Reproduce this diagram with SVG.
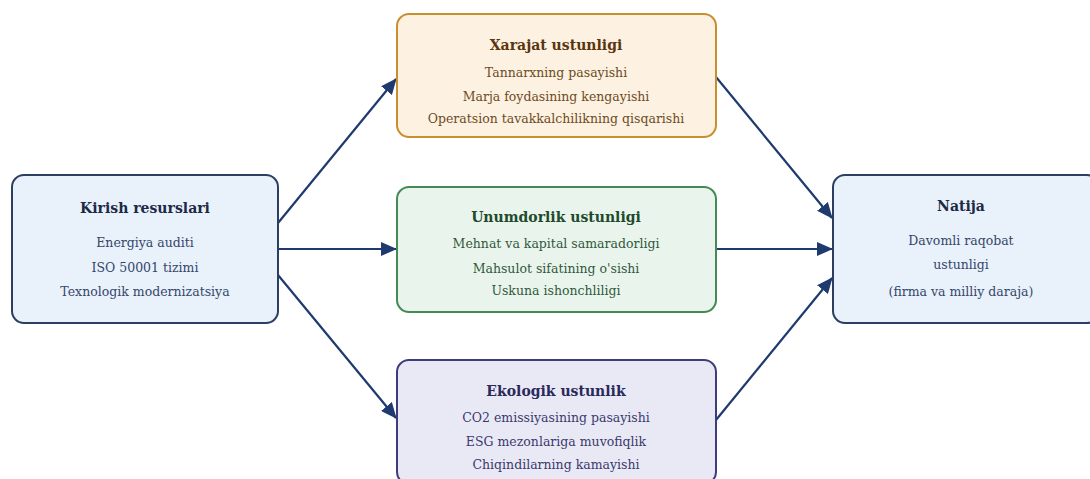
<svg xmlns="http://www.w3.org/2000/svg" width="1090" height="479" viewBox="0 0 1090 479">
<defs>
<marker id="ah" viewBox="0 0 16 14" refX="15" refY="7" markerWidth="16" markerHeight="14" markerUnits="userSpaceOnUse" orient="auto"><path d="M0,0 L16,7 L0,14 z" fill="#1f3a6e"/></marker>
<style>
.t{font-family:"DejaVu Serif",serif;font-weight:bold;font-size:14px;text-anchor:middle}
.i{font-family:"DejaVu Serif",serif;font-size:12.5px;text-anchor:middle}
.c{stroke:#1f3a6e;stroke-width:2.2;fill:none;marker-end:url(#ah)}
.nb{stroke-width:2}
</style>
</defs>
<rect width="1090" height="479" fill="#ffffff"/>
<g id="connectors">
<line class="c" x1="278" y1="223" x2="396" y2="79"/>
<line class="c" x1="278" y1="249" x2="396" y2="249"/>
<line class="c" x1="278" y1="275" x2="396" y2="418"/>
<line class="c" x1="716" y1="77" x2="832" y2="218"/>
<line class="c" x1="716" y1="249" x2="832" y2="249"/>
<line class="c" x1="716" y1="420" x2="832" y2="278"/>
</g>
<g id="kirish">
<rect class="nb" x="12" y="175" width="266" height="148" rx="12" fill="#e9f1fb" stroke="#2c3f63"/>
<text class="t" x="145" y="213" fill="#1c2a45">Kirish resurslari</text>
<text class="i" x="145" y="247" fill="#34476a">Energiya auditi</text>
<text class="i" x="145" y="272" fill="#34476a">ISO 50001 tizimi</text>
<text class="i" x="145" y="296" fill="#34476a">Texnologik modernizatsiya</text>
</g>
<g id="xarajat">
<rect class="nb" x="397" y="14" width="319" height="123" rx="12" fill="#fdf2e2" stroke="#c98e2e"/>
<text class="t" x="556" y="50" fill="#5a3610">Xarajat ustunligi</text>
<text class="i" x="556" y="77" fill="#6e4b22">Tannarxning pasayishi</text>
<text class="i" x="556" y="101" fill="#6e4b22">Marja foydasining kengayishi</text>
<text class="i" x="556" y="123" fill="#6e4b22">Operatsion tavakkalchilikning qisqarishi</text>
</g>
<g id="unumdorlik">
<rect class="nb" x="397" y="187" width="319" height="125" rx="12" fill="#e9f5ec" stroke="#438a55"/>
<text class="t" x="556" y="222" fill="#1f4a2c">Unumdorlik ustunligi</text>
<text class="i" x="556" y="248" fill="#32583e">Mehnat va kapital samaradorligi</text>
<text class="i" x="556" y="273" fill="#32583e">Mahsulot sifatining o'sishi</text>
<text class="i" x="556" y="295" fill="#32583e">Uskuna ishonchliligi</text>
</g>
<g id="ekologik">
<rect class="nb" x="397" y="360" width="319" height="124" rx="12" fill="#e9e9f6" stroke="#3d3d7c"/>
<text class="t" x="556" y="396" fill="#2a2a5a">Ekologik ustunlik</text>
<text class="i" x="556" y="422" fill="#3a3a6c">CO2 emissiyasining pasayishi</text>
<text class="i" x="556" y="446" fill="#3a3a6c">ESG mezonlariga muvofiqlik</text>
<text class="i" x="556" y="469" fill="#3a3a6c">Chiqindilarning kamayishi</text>
</g>
<g id="natija">
<rect class="nb" x="833" y="175" width="266" height="148" rx="12" fill="#e9f1fb" stroke="#2c3f63"/>
<text class="t" x="961" y="211" fill="#1c2a45">Natija</text>
<text class="i" x="961" y="245" fill="#34476a">Davomli raqobat</text>
<text class="i" x="961" y="269" fill="#34476a">ustunligi</text>
<text class="i" x="961" y="296" fill="#34476a">(firma va milliy daraja)</text>
</g>
</svg>
